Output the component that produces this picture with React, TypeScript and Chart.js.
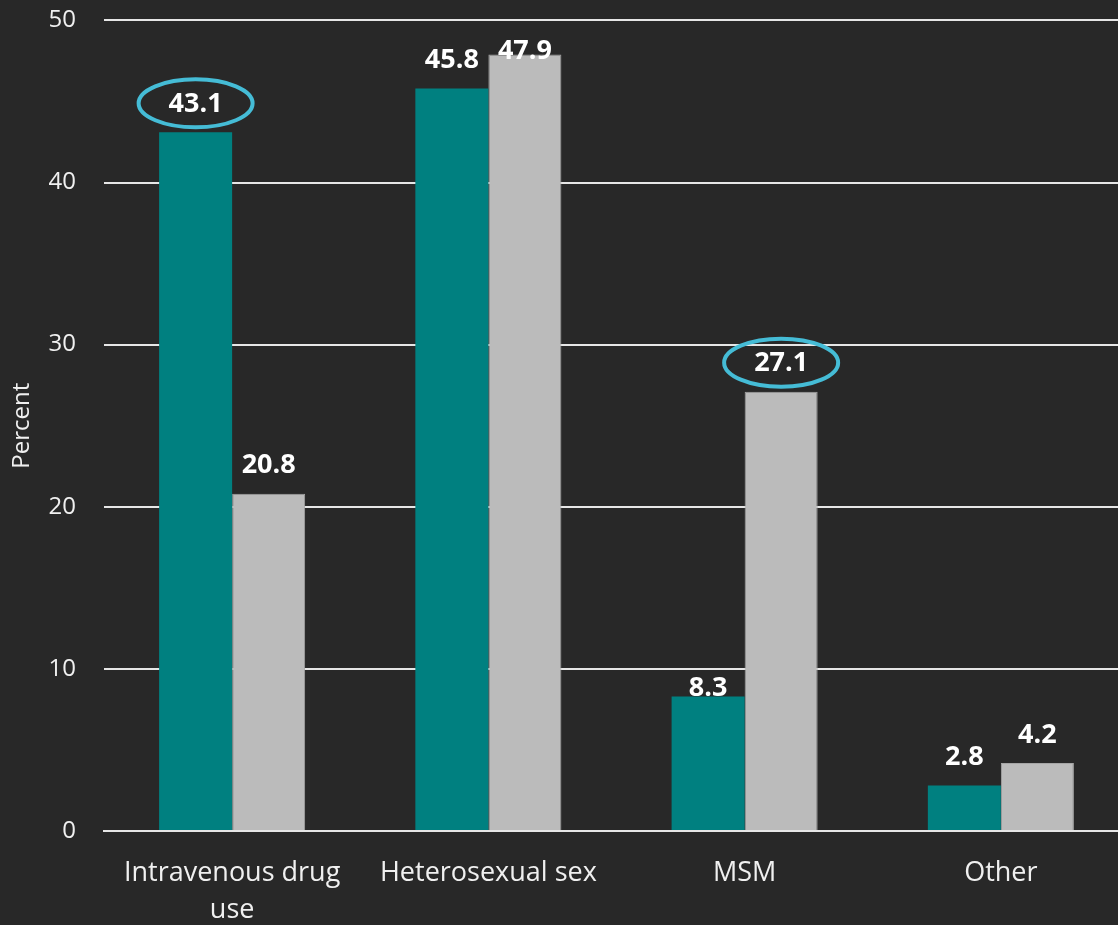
import React, { useEffect, useRef } from "react";
import { Chart, registerables } from "chart.js";

Chart.register(...registerables);

const categories: (string | string[])[] = [["Intravenous drug", "use"], "Heterosexual sex", "MSM", "Other"];
const seriesTeal = [43.1, 45.8, 8.3, 2.8];
const seriesGray = [20.8, 47.9, 27.1, 4.2];
const yTicks = [0, 10, 20, 30, 40, 50];
const highlighted = ["0-0", "1-2"]; // dataset-index pairs circled

const BG = "#282828";
const TEXT = "#f0f0f0";

// how far above the bar top the label centre sits (px)
const labelLift = (ds: number, i: number) => {
  if (ds === 0 && i === 2) return 9;
  if (ds === 1 && i === 1) return 4;
  return 29;
};

const labelPlugin = {
  id: "valueLabels",
  afterDatasetsDraw(chart: any) {
    const ctx = chart.ctx;
    ctx.save();
    ctx.font = "bold 27px 'Open Sans'";
    ctx.fillStyle = "#ffffff";
    ctx.textAlign = "center";
    ctx.textBaseline = "middle";
    chart.data.datasets.forEach((ds: any, di: number) => {
      const meta = chart.getDatasetMeta(di);
      meta.data.forEach((bar: any, i: number) => {
        const v = ds.data[i];
        const x = bar.x;
        const y = bar.y - labelLift(di, i);
        ctx.fillText(v.toFixed(1), x, y + 1);
        if (highlighted.includes(`${di}-${i}`)) {
          ctx.beginPath();
          ctx.strokeStyle = "#45bcd6";
          ctx.lineWidth = 4;
          ctx.ellipse(x, y, 57, 24, 0, 0, Math.PI * 2);
          ctx.stroke();
        }
      });
    });
    ctx.restore();
  },
};

export default function App() {
  const ref = useRef<HTMLCanvasElement>(null);
  useEffect(() => {
    document.body.style.margin = "0";
    const chart = new Chart(ref.current!, {
      type: "bar",
      data: {
        labels: categories,
        datasets: [
          {
            data: seriesTeal,
            backgroundColor: "#008080",
            categoryPercentage: 0.57,
            barPercentage: 1,
          },
          {
            data: seriesGray,
            backgroundColor: "#bbbbbb",
            borderColor: "#a5a5a5",
            borderWidth: 1,
            categoryPercentage: 0.57,
            barPercentage: 1,
          },
        ],
      },
      options: {
        animation: false,
        responsive: false,
        maintainAspectRatio: false,
        layout: { padding: 0 },
        plugins: { legend: { display: false }, tooltip: { enabled: false } },
        scales: {
          x: {
            grid: { display: false, drawTicks: false },
            border: { display: true, color: "#e6e6e6", width: 2 },
            ticks: {
              color: TEXT,
              font: { family: "'Open Sans'", size: 27, lineHeight: 1.4 },
              padding: 23,
              maxRotation: 0,
              autoSkip: false,
            },
            afterFit: (s: any) => {
              s.height = 94;
            },
          },
          y: {
            min: 0,
            max: 50,
            afterBuildTicks: (s: any) => {
              s.ticks = yTicks.map((v) => ({ value: v }));
            },
            grid: { color: "#e6e6e6", lineWidth: 2, drawTicks: false },
            border: { display: false },
            ticks: {
              color: TEXT,
              font: { family: "'Open Sans'", size: 24 },
              padding: 28,
            },
            title: {
              display: true,
              text: "Percent",
              color: TEXT,
              font: { family: "'Open Sans'", size: 24 },
              padding: { top: 8, bottom: 0 },
            },
            afterFit: (s: any) => {
              s.width = 104;
            },
          },
        },
      },
      plugins: [labelPlugin],
    });
    return () => chart.destroy();
  }, []);
  return (
    <div
      style={{
        position: "fixed",
        left: 0,
        top: 0,
        width: 1118,
        height: 925,
        overflow: "hidden",
        background: BG,
      }}
    >
      <canvas
        ref={ref}
        width={1129}
        height={947}
        style={{ display: "block", position: "absolute", left: 0, top: -22 }}
      />
    </div>
  );
}
